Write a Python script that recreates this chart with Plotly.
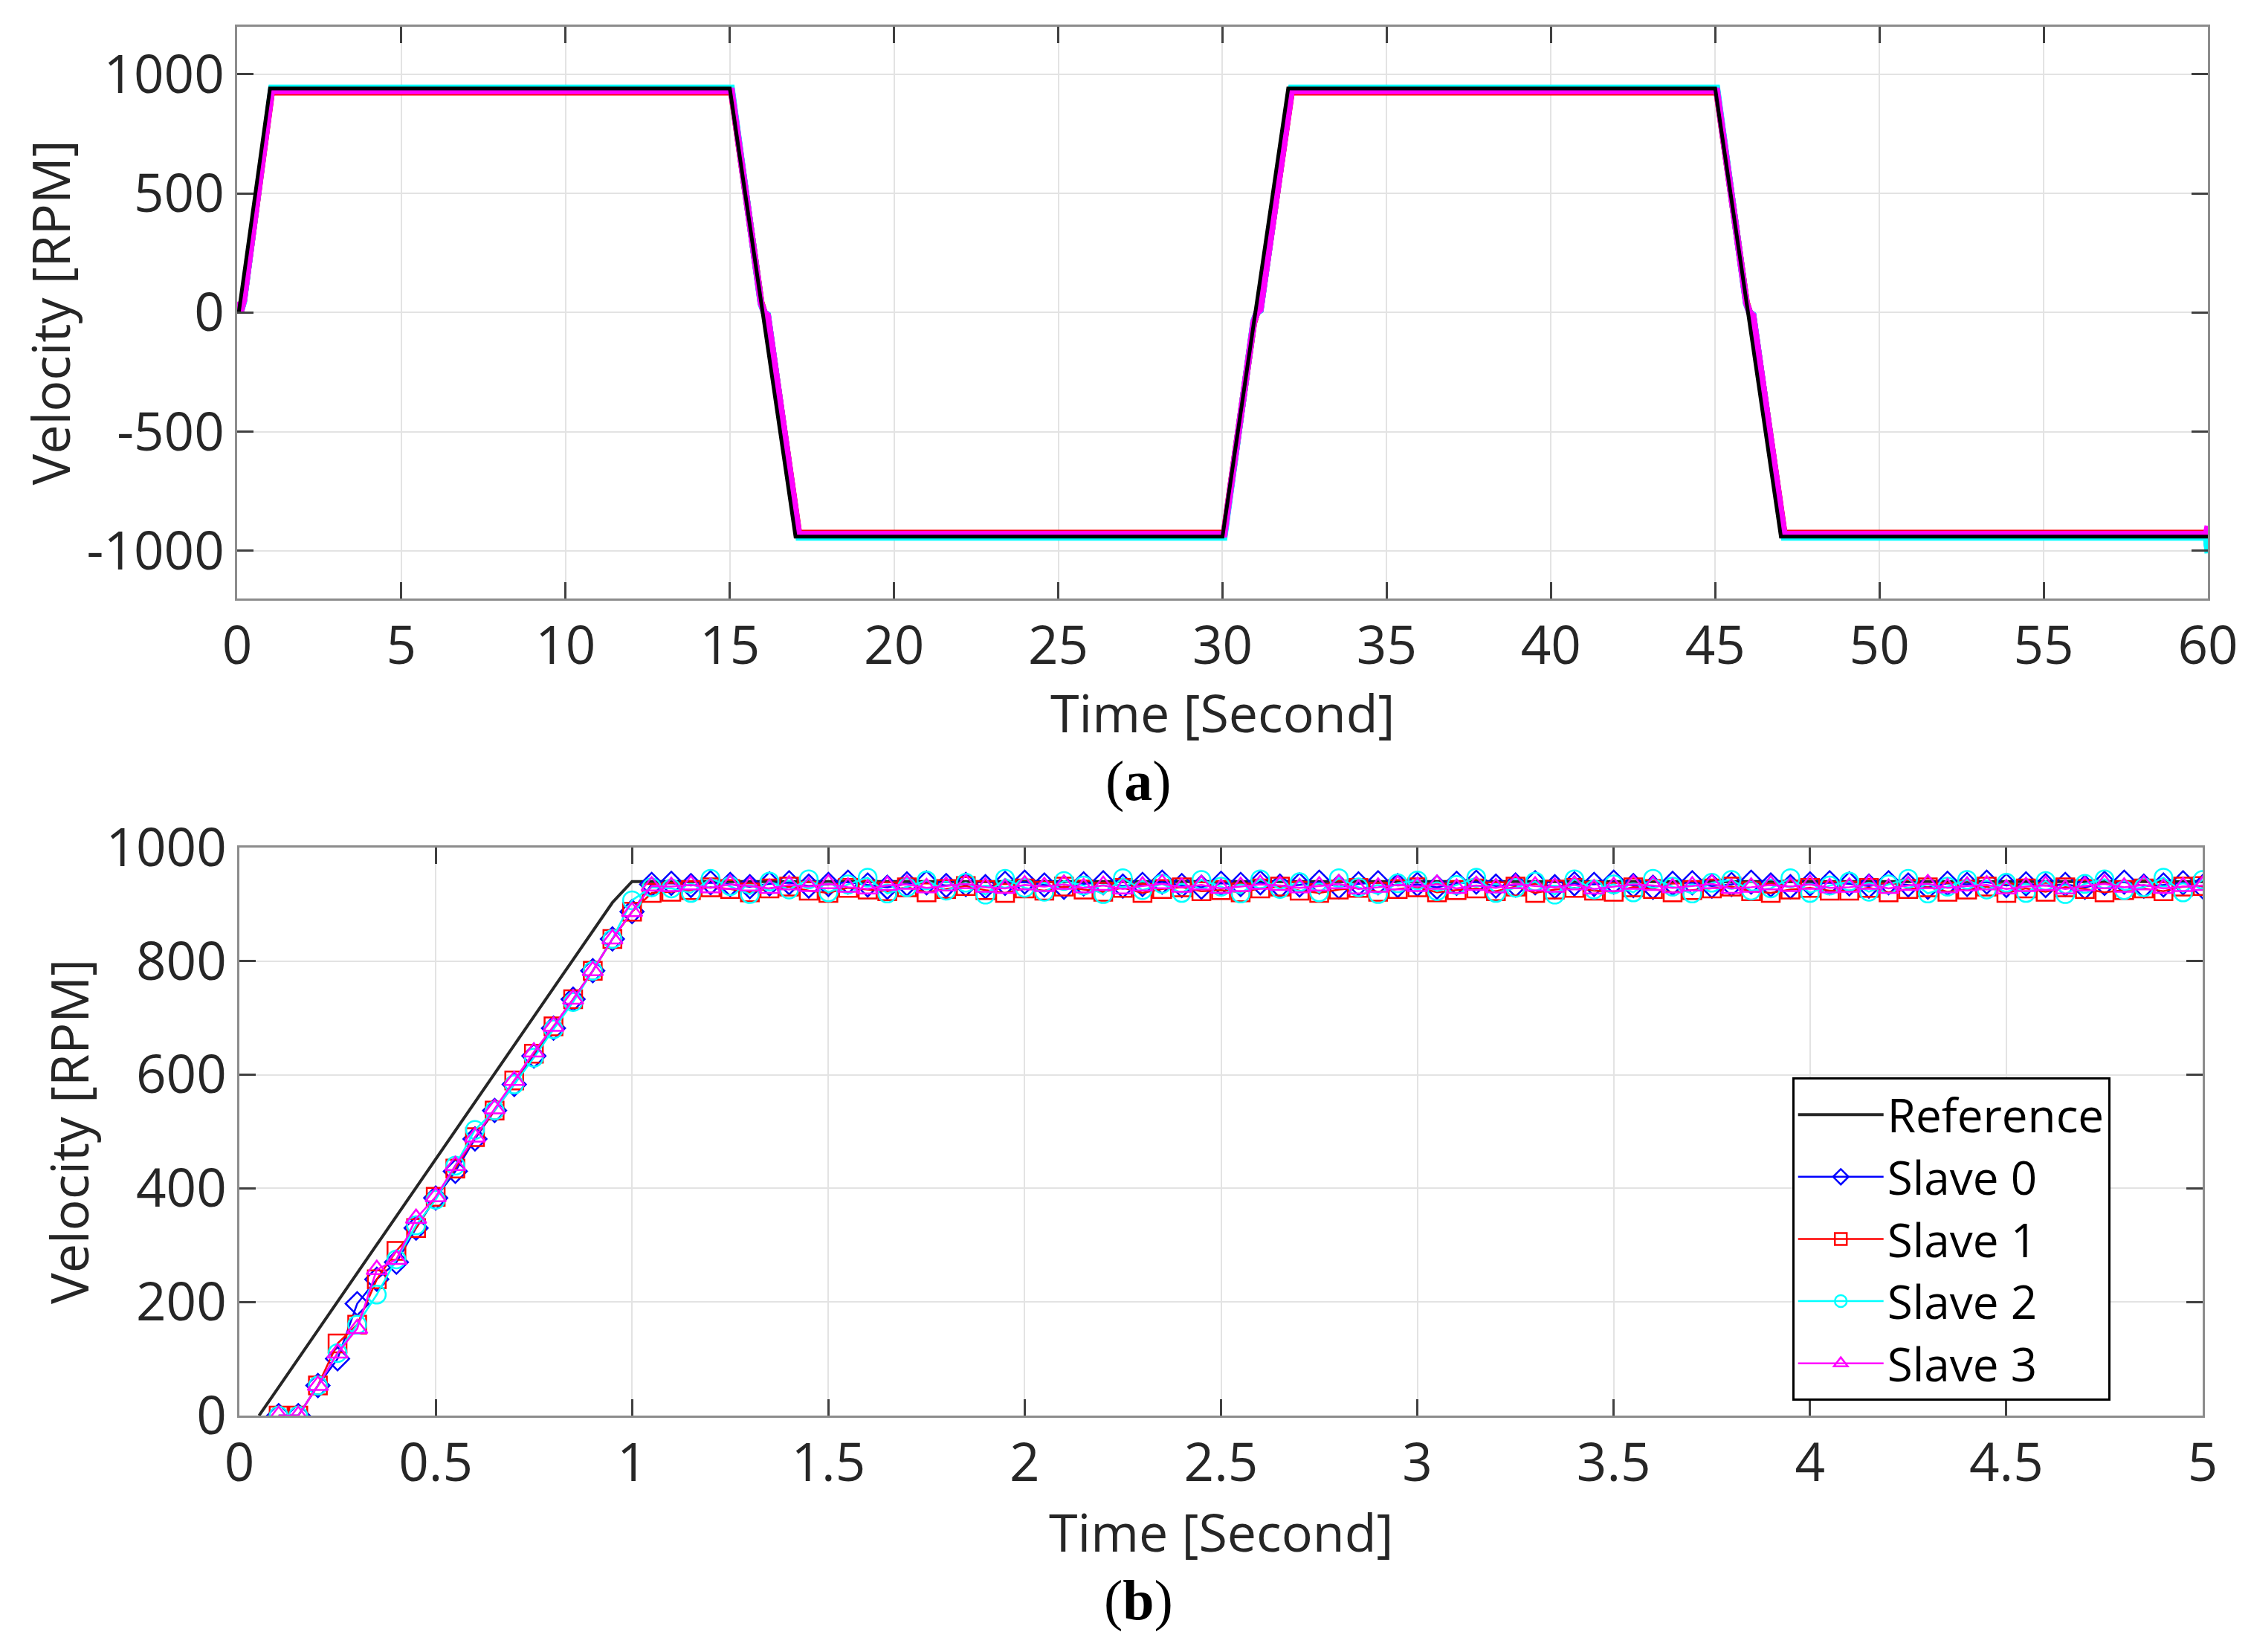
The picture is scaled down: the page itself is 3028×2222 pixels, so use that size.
import plotly.graph_objects as go

# ---- (a) full 60 s run: corner points ----
ref_t_a = [0.05, 0.1, 0.95, 1.0, 15, 17, 30, 32, 45, 47, 60]
ref_v_a = [0, 50, 903, 940, 940, -940, -940, 940, 940, -940, -940]

slave_t_a = {
    "Slave 0": [0.1, 0.2, 1.05, 15.05, 15.95, 16.05, 16.15, 17.1, 30.05, 30.95, 31.05, 31.15, 32.1,
                45.05, 45.95, 46.05, 46.15, 47.1, 59.95, 60],
    "Slave 1": [0.1, 0.2, 1.05, 15.05, 15.95, 16.05, 16.15, 17.1, 30.05, 30.95, 31.05, 31.15, 32.1,
                45.05, 45.95, 46.05, 46.15, 47.1, 59.95, 60],
    "Slave 2": [0.1, 0.2, 1.05, 15.05, 15.95, 16.05, 16.15, 17.1, 30.05, 30.95, 31.05, 31.15, 32.1,
                45.05, 45.95, 46.05, 46.15, 47.1, 59.95, 60],
    "Slave 3": [0.0, 0.1, 0.2, 1.05, 15.05, 15.95, 16.05, 16.15, 17.1, 30.05, 30.95, 31.05, 31.15, 32.1,
                45.05, 45.95, 46.05, 46.15, 47.1, 59.95, 60],
}
slave_v_a = {
    "Slave 0": [0, 50, 935, 935, 40, 0, -10, -935, -935, -40, 0, 10, 935, 935, 40, 0, -10, -935, -935, -1000],
    "Slave 1": [0, 50, 925, 925, 45, 0, -15, -925, -925, -45, 0, 15, 925, 925, 45, 0, -15, -925, -925, -960],
    "Slave 2": [0, 45, 943, 943, 35, 0, -10, -943, -943, -35, 0, 10, 943, 943, 35, 0, -10, -943, -943, -1010],
    "Slave 3": [45, 0, 50, 930, 930, 40, 0, -12, -930, -930, -40, 0, 12, 930, 930, 40, 0, -12, -930, -930, -895],
}

# ---- (b) zoom on first 5 s: samples every 0.05 s from 0.1 s ----
t_b = [round(0.1 + 0.05 * k, 2) for k in range(99)]
ref_t_b = [0.05, 0.1, 0.95, 1.0, 5.0]
ref_v_b = [0, 50, 903, 940, 940]

slave_v_b = {
    "Slave 0": [0, 0, 53, 100, 197, 240, 270, 330, 383, 430, 487, 537, 583, 633, 682, 733, 783, 839, 887, 935,
                937, 933, 938, 935, 931, 936, 938, 932, 935, 939,
                934, 930, 936, 938, 933, 935, 931, 937, 939, 934,
                930, 936, 938, 932, 935, 939, 933, 930, 937, 935,
                938, 932, 934, 939, 931, 936, 938, 933, 935, 930,
                937, 939, 932, 934, 938, 931, 936, 935, 939, 933,
                930, 937, 938, 932, 935, 939, 934, 931, 936, 938,
                936, 932, 938, 934, 930, 937, 935, 939, 933, 936,
                933, 935, 930, 937, 939, 932, 934, 938, 931],
    "Slave 1": [0, 0, 53, 127, 160, 240, 290, 330, 385, 435, 490, 537, 590, 637, 685, 733, 783, 839, 887, 920,
                922, 925, 930, 927, 921, 928, 931, 924, 920, 929,
                926, 923, 930, 921, 927, 932, 925, 920, 928, 924,
                931, 926, 922, 929, 920, 927, 930, 923, 925, 921,
                928, 931, 924, 920, 926, 929, 922, 927, 930, 921,
                925, 928, 923, 931, 920, 926, 929, 924, 922, 930,
                927, 921, 925, 928, 931, 923, 920, 926, 929, 924,
                924, 929, 921, 927, 930, 922, 926, 931, 920, 928,
                922, 930, 927, 921, 925, 928, 923, 931, 932],
    "Slave 2": [0, 0, 53, 110, 160, 213, 275, 335, 380, 440, 503, 537, 583, 630, 680, 728, 783, 839, 907, 930,
                928, 920, 945, 932, 918, 940, 926, 944, 921, 935,
                947, 919, 930, 942, 924, 938, 917, 945, 929, 922,
                941, 933, 918, 946, 925, 936, 920, 943, 931, 919,
                944, 927, 939, 921, 946, 930, 918, 937, 942, 923,
                934, 947, 920, 929, 940, 917, 944, 926, 935, 921,
                945, 931, 919, 938, 943, 924, 928, 946, 920, 933,
                940, 922, 935, 945, 919, 931, 943, 926, 938, 920,
                941, 918, 936, 944, 925, 930, 947, 921, 943],
    "Slave 3": [0, 0, 53, 110, 153, 257, 275, 347, 385, 440, 490, 540, 590, 640, 685, 733, 783, 839, 887, 932,
                931, 934, 929, 935, 932, 928, 934, 931, 936, 930,
                927, 933, 935, 929, 932, 936, 930, 928, 934, 931,
                935, 929, 933, 927, 932, 936, 930, 934, 928, 931,
                935, 933, 929, 932, 936, 927, 930, 934, 931, 935,
                928, 933, 929, 936, 932, 930, 934, 927, 931, 935,
                933, 929, 932, 936, 928, 930, 934, 931, 935, 929,
                930, 935, 928, 933, 936, 929, 932, 934, 927, 931,
                933, 927, 932, 936, 930, 934, 928, 931, 933],
}

y_ticks_a = [-1000, -500, 0, 500, 1000]
y_ticklabels_a = ["-1000", "-500", "0", "500", "1000"]

colors = {"Slave 0": "#0000ff", "Slave 1": "#ff0000", "Slave 2": "#00ffff", "Slave 3": "#ff00ff"}
symbols = {"Slave 0": "diamond-open", "Slave 1": "square-open",
           "Slave 2": "circle-open", "Slave 3": "triangle-up-open"}

font = "Open Sans, Noto Sans, DejaVu Sans, sans-serif"
tick_font = dict(family=font, size=71, color="#262626")
title_font = dict(family=font, size=70, color="#262626")
label_font = dict(family="Liberation Serif, Times New Roman, serif", size=76, color="#000000")

fig = go.Figure()

# (a): slaves first, reference drawn over them
for name in slave_t_a:
    fig.add_trace(go.Scatter(x=slave_t_a[name], y=slave_v_a[name], mode="lines",
                             line=dict(color=colors[name], width=9),
                             showlegend=False, xaxis="x", yaxis="y"))
fig.add_trace(go.Scatter(x=ref_t_a, y=ref_v_a, mode="lines", line=dict(color="#000000", width=5),
                         showlegend=False, xaxis="x", yaxis="y"))

# (b)
fig.add_trace(go.Scatter(x=ref_t_b, y=ref_v_b, mode="lines", name="Reference",
                         line=dict(color="#262626", width=4), xaxis="x2", yaxis="y2"))
for name in slave_v_b:
    fig.add_trace(go.Scatter(x=t_b, y=slave_v_b[name], mode="lines+markers", name=name,
                             line=dict(color=colors[name], width=2.5),
                             marker=dict(symbol=symbols[name], size=24, color=colors[name],
                                         line=dict(width=2.5, color=colors[name])),
                             xaxis="x2", yaxis="y2"))

axis_common = dict(showline=True, linecolor="#8c8c8c", linewidth=3, mirror="ticks",
                   ticks="inside", ticklen=22, tickwidth=3, tickcolor="#404040",
                   showgrid=True, gridcolor="#e3e3e3", gridwidth=2, zeroline=False,
                   tickfont=tick_font, automargin=False, ticklabelstandoff=0)

# x titles placed as paper annotations so they sit as close to the tick labels as in the original
x_title_a = dict(text="Time [Second]", x=(0.1027 + 0.9782) / 2, y=1 - 950 / 2222)
x_title_b = dict(text="Time [Second]", x=(0.1037 + 0.9759) / 2, y=1 - 2052 / 2222)

fig.update_layout(
    width=3028, height=2222,
    margin=dict(l=0, r=0, t=0, b=0),
    paper_bgcolor="white", plot_bgcolor="white",
    xaxis=dict(domain=[0.1027, 0.9782], anchor="y", range=[0, 60], dtick=5, **axis_common),
    yaxis=dict(domain=[0.6413, 0.9875], anchor="x", range=[-1200, 1200],
               tickvals=y_ticks_a, ticktext=y_ticklabels_a,
               title=dict(text="Velocity [RPM]", font=title_font, standoff=0), **axis_common),
    xaxis2=dict(domain=[0.1037, 0.9759], anchor="y2", range=[0, 5], dtick=0.5, **axis_common),
    yaxis2=dict(domain=[0.1467, 0.4906], anchor="x2", range=[0, 1000], dtick=200,
                title=dict(text="Velocity [RPM]", font=title_font, standoff=0), **axis_common),
    legend=dict(x=0.7935, y=0.2534, xanchor="left", yanchor="middle",
                bgcolor="white", bordercolor="#000000", borderwidth=3,
                font=dict(family=font, size=62, color="#000000"),
                itemwidth=115, tracegroupgap=0),
    annotations=[
        dict(x_title_a, xref="paper", yref="paper", xanchor="center", yanchor="middle",
             showarrow=False, font=title_font),
        dict(x_title_b, xref="paper", yref="paper", xanchor="center", yanchor="middle",
             showarrow=False, font=title_font),
        dict(text="(<b>a</b>)", x=0.503, y=0.531, xref="paper", yref="paper",
             xanchor="center", yanchor="middle", showarrow=False, font=label_font),
        dict(text="(<b>b</b>)", x=0.503, y=0.035, xref="paper", yref="paper",
             xanchor="center", yanchor="middle", showarrow=False, font=label_font),
    ],
)

fig.write_html("out.html")
